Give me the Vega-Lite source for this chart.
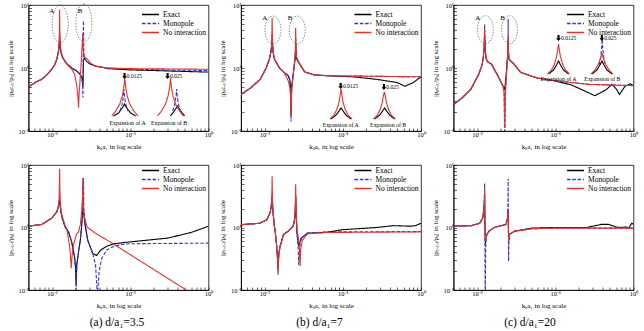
{
  "$schema": "https://vega.github.io/schema/vega-lite/v6.json",
  "background": "white",
  "padding": {"left": 5.5, "top": 1, "right": 0, "bottom": 0},
  "columns": 3,
  "align": "each",
  "spacing": {"row": 11, "column": 4.5},
  "resolve": {
    "scale": {"color": "independent", "strokeDash": "independent"},
    "legend": {"color": "independent", "strokeDash": "independent"}
  },
  "config": {
    "view": {"stroke": "#000", "strokeWidth": 0.8},
    "font": "Liberation Serif",
    "axis": {
      "grid": false, "domainColor": "#000", "domainWidth": 0.8,
      "tickColor": "#000", "tickWidth": 0.6, "tickSize": -3,
      "labelFont": "Liberation Serif", "labelFontSize": 6.5, "labelColor": "#000",
      "labelPadding": 3, "labelOverlap": false, "labelFlush": false,
      "titleFont": "Liberation Serif", "titleFontSize": 7, "titleFontWeight": "normal", "titleColor": "#000"
    },
    "legend": {
      "symbolType": "M-2,0H2", "symbolSize": 72, "symbolStrokeWidth": 1.3,
      "labelFont": "Liberation Serif", "labelFontSize": 7.5, "labelColor": "#000",
      "rowPadding": 0, "padding": 0, "labelOffset": 7.5
    },
    "title": {"font": "Liberation Serif", "fontSize": 11.5, "fontWeight": "normal", "color": "#000"}
  },
  "datasets": {
    "curves": [
      {"p":"a1","s":"Exact","x":0.005,"y":0.501},{"p":"a1","s":"Exact","x":0.0063,"y":0.603},{"p":"a1","s":"Exact","x":0.0074,"y":0.661},{"p":"a1","s":"Exact","x":0.0087,"y":0.794},{"p":"a1","s":"Exact","x":0.0099,"y":0.955},{"p":"a1","s":"Exact","x":0.0108,"y":1.12},{"p":"a1","s":"Exact","x":0.0115,"y":1.38},{"p":"a1","s":"Exact","x":0.012,"y":1.74},{"p":"a1","s":"Exact","x":0.0123,"y":2.09},{"p":"a1","s":"Exact","x":0.0125,"y":3.02},{"p":"a1","s":"Exact","x":0.0127,"y":2.14},{"p":"a1","s":"Exact","x":0.013,"y":1.78},{"p":"a1","s":"Exact","x":0.0135,"y":1.51},{"p":"a1","s":"Exact","x":0.0147,"y":1.26},{"p":"a1","s":"Exact","x":0.016,"y":1.12},{"p":"a1","s":"Exact","x":0.0179,"y":1.0},{"p":"a1","s":"Exact","x":0.0208,"y":0.891},{"p":"a1","s":"Exact","x":0.0225,"y":0.813},{"p":"a1","s":"Exact","x":0.0238,"y":0.724},{"p":"a1","s":"Exact","x":0.0245,"y":0.631},{"p":"a1","s":"Exact","x":0.0248,"y":0.501},{"p":"a1","s":"Exact","x":0.025,"y":0.794},{"p":"a1","s":"Exact","x":0.0252,"y":1.32},{"p":"a1","s":"Exact","x":0.0258,"y":1.45},{"p":"a1","s":"Exact","x":0.0268,"y":1.35},{"p":"a1","s":"Exact","x":0.0279,"y":1.26},{"p":"a1","s":"Exact","x":0.031,"y":1.15},{"p":"a1","s":"Exact","x":0.036,"y":1.07},{"p":"a1","s":"Exact","x":0.045,"y":1.02},{"p":"a1","s":"Exact","x":0.052,"y":0.977},{"p":"a1","s":"Exact","x":0.1,"y":0.933},{"p":"a1","s":"Exact","x":0.2,"y":0.912},{"p":"a1","s":"Exact","x":0.5,"y":0.881},{"p":"a1","s":"Exact","x":1,"y":0.861},
      {"p":"a1","s":"Monopole","x":0.005,"y":0.501},{"p":"a1","s":"Monopole","x":0.0063,"y":0.603},{"p":"a1","s":"Monopole","x":0.0074,"y":0.661},{"p":"a1","s":"Monopole","x":0.0087,"y":0.794},{"p":"a1","s":"Monopole","x":0.0099,"y":0.955},{"p":"a1","s":"Monopole","x":0.0108,"y":1.12},{"p":"a1","s":"Monopole","x":0.0115,"y":1.38},{"p":"a1","s":"Monopole","x":0.012,"y":1.74},{"p":"a1","s":"Monopole","x":0.0123,"y":2.14},{"p":"a1","s":"Monopole","x":0.0125,"y":3.55},{"p":"a1","s":"Monopole","x":0.0127,"y":2.14},{"p":"a1","s":"Monopole","x":0.013,"y":1.78},{"p":"a1","s":"Monopole","x":0.0135,"y":1.51},{"p":"a1","s":"Monopole","x":0.0147,"y":1.26},{"p":"a1","s":"Monopole","x":0.016,"y":1.12},{"p":"a1","s":"Monopole","x":0.0179,"y":1.0},{"p":"a1","s":"Monopole","x":0.0208,"y":0.891},{"p":"a1","s":"Monopole","x":0.0225,"y":0.813},{"p":"a1","s":"Monopole","x":0.0238,"y":0.708},{"p":"a1","s":"Monopole","x":0.0245,"y":0.562},{"p":"a1","s":"Monopole","x":0.0248,"y":0.339},{"p":"a1","s":"Monopole","x":0.025,"y":1.26},{"p":"a1","s":"Monopole","x":0.0252,"y":5.62},{"p":"a1","s":"Monopole","x":0.0254,"y":2.0},{"p":"a1","s":"Monopole","x":0.0258,"y":1.51},{"p":"a1","s":"Monopole","x":0.0268,"y":1.35},{"p":"a1","s":"Monopole","x":0.0279,"y":1.26},{"p":"a1","s":"Monopole","x":0.031,"y":1.15},{"p":"a1","s":"Monopole","x":0.036,"y":1.07},{"p":"a1","s":"Monopole","x":0.045,"y":1.02},{"p":"a1","s":"Monopole","x":0.052,"y":1.0},{"p":"a1","s":"Monopole","x":0.1,"y":0.955},{"p":"a1","s":"Monopole","x":0.5,"y":0.923},{"p":"a1","s":"Monopole","x":1,"y":0.912},
      {"p":"a1","s":"No interaction","x":0.005,"y":0.501},{"p":"a1","s":"No interaction","x":0.0063,"y":0.603},{"p":"a1","s":"No interaction","x":0.0074,"y":0.661},{"p":"a1","s":"No interaction","x":0.0087,"y":0.794},{"p":"a1","s":"No interaction","x":0.0099,"y":0.955},{"p":"a1","s":"No interaction","x":0.0108,"y":1.12},{"p":"a1","s":"No interaction","x":0.0115,"y":1.38},{"p":"a1","s":"No interaction","x":0.012,"y":1.82},{"p":"a1","s":"No interaction","x":0.0123,"y":2.51},{"p":"a1","s":"No interaction","x":0.0124,"y":3.55},{"p":"a1","s":"No interaction","x":0.0125,"y":8.51},{"p":"a1","s":"No interaction","x":0.0126,"y":3.55},{"p":"a1","s":"No interaction","x":0.0127,"y":2.51},{"p":"a1","s":"No interaction","x":0.013,"y":1.86},{"p":"a1","s":"No interaction","x":0.0135,"y":1.55},{"p":"a1","s":"No interaction","x":0.0147,"y":1.26},{"p":"a1","s":"No interaction","x":0.016,"y":1.1},{"p":"a1","s":"No interaction","x":0.0179,"y":0.955},{"p":"a1","s":"No interaction","x":0.0195,"y":0.794},{"p":"a1","s":"No interaction","x":0.0208,"y":0.501},{"p":"a1","s":"No interaction","x":0.0214,"y":0.355},{"p":"a1","s":"No interaction","x":0.0218,"y":0.234},{"p":"a1","s":"No interaction","x":0.0222,"y":0.398},{"p":"a1","s":"No interaction","x":0.0228,"y":0.631},{"p":"a1","s":"No interaction","x":0.0235,"y":1.12},{"p":"a1","s":"No interaction","x":0.0239,"y":1.62},{"p":"a1","s":"No interaction","x":0.0243,"y":2.4},{"p":"a1","s":"No interaction","x":0.0247,"y":3.63},{"p":"a1","s":"No interaction","x":0.025,"y":2.0},{"p":"a1","s":"No interaction","x":0.0255,"y":1.58},{"p":"a1","s":"No interaction","x":0.0265,"y":1.45},{"p":"a1","s":"No interaction","x":0.0279,"y":1.41},{"p":"a1","s":"No interaction","x":0.031,"y":1.2},{"p":"a1","s":"No interaction","x":0.036,"y":1.07},{"p":"a1","s":"No interaction","x":0.052,"y":1.0},{"p":"a1","s":"No interaction","x":0.1,"y":0.977},{"p":"a1","s":"No interaction","x":0.3,"y":0.966},{"p":"a1","s":"No interaction","x":1,"y":0.955},
      {"p":"a1","s":"Exact","g":"A","x":0.0611,"y":0.173},{"p":"a1","s":"Exact","g":"A","x":0.0708,"y":0.193},{"p":"a1","s":"Exact","g":"A","x":0.0773,"y":0.223},{"p":"a1","s":"Exact","g":"A","x":0.082,"y":0.249},{"p":"a1","s":"Exact","g":"A","x":0.0845,"y":0.268},{"p":"a1","s":"Exact","g":"A","x":0.087,"y":0.249},{"p":"a1","s":"Exact","g":"A","x":0.0923,"y":0.223},{"p":"a1","s":"Exact","g":"A","x":0.1008,"y":0.193},{"p":"a1","s":"Exact","g":"A","x":0.1169,"y":0.173},
      {"p":"a1","s":"Monopole","g":"A","x":0.0738,"y":0.208},{"p":"a1","s":"Monopole","g":"A","x":0.0783,"y":0.259},{"p":"a1","s":"Monopole","g":"A","x":0.0818,"y":0.36},{"p":"a1","s":"Monopole","g":"A","x":0.083,"y":0.464},{"p":"a1","s":"Monopole","g":"A","x":0.0842,"y":0.36},{"p":"a1","s":"Monopole","g":"A","x":0.0881,"y":0.259},{"p":"a1","s":"Monopole","g":"A","x":0.0934,"y":0.208},
      {"p":"a1","s":"No interaction","g":"A","x":0.058,"y":0.173},{"p":"a1","s":"No interaction","g":"A","x":0.0652,"y":0.208},{"p":"a1","s":"No interaction","g":"A","x":0.0734,"y":0.268},{"p":"a1","s":"No interaction","g":"A","x":0.079,"y":0.36},{"p":"a1","s":"No interaction","g":"A","x":0.0825,"y":0.482},{"p":"a1","s":"No interaction","g":"A","x":0.085,"y":0.694},{"p":"a1","s":"No interaction","g":"A","x":0.0876,"y":0.482},{"p":"a1","s":"No interaction","g":"A","x":0.0915,"y":0.36},{"p":"a1","s":"No interaction","g":"A","x":0.0985,"y":0.268},{"p":"a1","s":"No interaction","g":"A","x":0.111,"y":0.208},{"p":"a1","s":"No interaction","g":"A","x":0.125,"y":0.173},
      {"p":"a1","s":"Exact","g":"B","x":0.327,"y":0.173},{"p":"a1","s":"Exact","g":"B","x":0.357,"y":0.2},{"p":"a1","s":"Exact","g":"B","x":0.379,"y":0.223},{"p":"a1","s":"Exact","g":"B","x":0.402,"y":0.249},{"p":"a1","s":"Exact","g":"B","x":0.426,"y":0.223},{"p":"a1","s":"Exact","g":"B","x":0.452,"y":0.2},{"p":"a1","s":"Exact","g":"B","x":0.494,"y":0.173},
      {"p":"a1","s":"Monopole","g":"B","x":0.348,"y":0.208},{"p":"a1","s":"Monopole","g":"B","x":0.369,"y":0.259},{"p":"a1","s":"Monopole","g":"B","x":0.385,"y":0.36},{"p":"a1","s":"Monopole","g":"B","x":0.391,"y":0.464},{"p":"a1","s":"Monopole","g":"B","x":0.397,"y":0.36},{"p":"a1","s":"Monopole","g":"B","x":0.415,"y":0.259},{"p":"a1","s":"Monopole","g":"B","x":0.44,"y":0.208},
      {"p":"a1","s":"No interaction","g":"B","x":0.223,"y":0.173},{"p":"a1","s":"No interaction","g":"B","x":0.251,"y":0.208},{"p":"a1","s":"No interaction","g":"B","x":0.282,"y":0.268},{"p":"a1","s":"No interaction","g":"B","x":0.304,"y":0.36},{"p":"a1","s":"No interaction","g":"B","x":0.318,"y":0.482},{"p":"a1","s":"No interaction","g":"B","x":0.327,"y":0.694},{"p":"a1","s":"No interaction","g":"B","x":0.337,"y":0.482},{"p":"a1","s":"No interaction","g":"B","x":0.352,"y":0.36},{"p":"a1","s":"No interaction","g":"B","x":0.379,"y":0.268},{"p":"a1","s":"No interaction","g":"B","x":0.426,"y":0.208},{"p":"a1","s":"No interaction","g":"B","x":0.479,"y":0.173},

      {"p":"b1","s":"Exact","x":0.005,"y":0.38},{"p":"b1","s":"Exact","x":0.0066,"y":0.479},{"p":"b1","s":"Exact","x":0.0088,"y":0.661},{"p":"b1","s":"Exact","x":0.0105,"y":1.0},{"p":"b1","s":"Exact","x":0.0115,"y":1.38},{"p":"b1","s":"Exact","x":0.012,"y":1.74},{"p":"b1","s":"Exact","x":0.0123,"y":2.14},{"p":"b1","s":"Exact","x":0.0125,"y":2.82},{"p":"b1","s":"Exact","x":0.0127,"y":2.09},{"p":"b1","s":"Exact","x":0.013,"y":1.66},{"p":"b1","s":"Exact","x":0.0134,"y":1.38},{"p":"b1","s":"Exact","x":0.0155,"y":1.0},{"p":"b1","s":"Exact","x":0.0178,"y":0.851},{"p":"b1","s":"Exact","x":0.02,"y":0.759},{"p":"b1","s":"Exact","x":0.021,"y":0.661},{"p":"b1","s":"Exact","x":0.0215,"y":0.501},{"p":"b1","s":"Exact","x":0.0218,"y":0.182},{"p":"b1","s":"Exact","x":0.0222,"y":0.501},{"p":"b1","s":"Exact","x":0.0235,"y":0.891},{"p":"b1","s":"Exact","x":0.0243,"y":1.26},{"p":"b1","s":"Exact","x":0.0248,"y":1.58},{"p":"b1","s":"Exact","x":0.025,"y":2.51},{"p":"b1","s":"Exact","x":0.0252,"y":1.78},{"p":"b1","s":"Exact","x":0.0256,"y":1.41},{"p":"b1","s":"Exact","x":0.027,"y":1.26},{"p":"b1","s":"Exact","x":0.0325,"y":0.871},{"p":"b1","s":"Exact","x":0.043,"y":0.776},{"p":"b1","s":"Exact","x":0.07,"y":0.75},{"p":"b1","s":"Exact","x":0.136,"y":0.724},{"p":"b1","s":"Exact","x":0.27,"y":0.661},{"p":"b1","s":"Exact","x":0.49,"y":0.589},{"p":"b1","s":"Exact","x":0.625,"y":0.513},{"p":"b1","s":"Exact","x":0.8,"y":0.589},{"p":"b1","s":"Exact","x":1,"y":0.724},
      {"p":"b1","s":"Monopole","x":0.005,"y":0.38},{"p":"b1","s":"Monopole","x":0.0066,"y":0.479},{"p":"b1","s":"Monopole","x":0.0088,"y":0.661},{"p":"b1","s":"Monopole","x":0.0105,"y":1.0},{"p":"b1","s":"Monopole","x":0.0115,"y":1.38},{"p":"b1","s":"Monopole","x":0.012,"y":1.74},{"p":"b1","s":"Monopole","x":0.0123,"y":2.24},{"p":"b1","s":"Monopole","x":0.0125,"y":3.55},{"p":"b1","s":"Monopole","x":0.0127,"y":2.24},{"p":"b1","s":"Monopole","x":0.013,"y":1.66},{"p":"b1","s":"Monopole","x":0.0134,"y":1.38},{"p":"b1","s":"Monopole","x":0.0155,"y":1.0},{"p":"b1","s":"Monopole","x":0.0178,"y":0.851},{"p":"b1","s":"Monopole","x":0.02,"y":0.759},{"p":"b1","s":"Monopole","x":0.021,"y":0.646},{"p":"b1","s":"Monopole","x":0.0215,"y":0.447},{"p":"b1","s":"Monopole","x":0.0218,"y":0.141},{"p":"b1","s":"Monopole","x":0.0222,"y":0.447},{"p":"b1","s":"Monopole","x":0.0235,"y":0.891},{"p":"b1","s":"Monopole","x":0.0243,"y":1.26},{"p":"b1","s":"Monopole","x":0.0248,"y":1.74},{"p":"b1","s":"Monopole","x":0.025,"y":3.16},{"p":"b1","s":"Monopole","x":0.0252,"y":1.91},{"p":"b1","s":"Monopole","x":0.0256,"y":1.45},{"p":"b1","s":"Monopole","x":0.027,"y":1.26},{"p":"b1","s":"Monopole","x":0.0325,"y":0.871},{"p":"b1","s":"Monopole","x":0.043,"y":0.776},{"p":"b1","s":"Monopole","x":0.07,"y":0.75},{"p":"b1","s":"Monopole","x":0.2,"y":0.741},{"p":"b1","s":"Monopole","x":1,"y":0.724},
      {"p":"b1","s":"No interaction","x":0.005,"y":0.38},{"p":"b1","s":"No interaction","x":0.0066,"y":0.479},{"p":"b1","s":"No interaction","x":0.0088,"y":0.661},{"p":"b1","s":"No interaction","x":0.0105,"y":1.0},{"p":"b1","s":"No interaction","x":0.0115,"y":1.38},{"p":"b1","s":"No interaction","x":0.012,"y":1.74},{"p":"b1","s":"No interaction","x":0.0123,"y":2.29},{"p":"b1","s":"No interaction","x":0.0124,"y":3.16},{"p":"b1","s":"No interaction","x":0.0125,"y":6.31},{"p":"b1","s":"No interaction","x":0.0126,"y":3.16},{"p":"b1","s":"No interaction","x":0.0127,"y":2.29},{"p":"b1","s":"No interaction","x":0.013,"y":1.66},{"p":"b1","s":"No interaction","x":0.0134,"y":1.38},{"p":"b1","s":"No interaction","x":0.0155,"y":1.0},{"p":"b1","s":"No interaction","x":0.0178,"y":0.851},{"p":"b1","s":"No interaction","x":0.02,"y":0.631},{"p":"b1","s":"No interaction","x":0.021,"y":0.501},{"p":"b1","s":"No interaction","x":0.0215,"y":0.355},{"p":"b1","s":"No interaction","x":0.0218,"y":0.17},{"p":"b1","s":"No interaction","x":0.0222,"y":0.447},{"p":"b1","s":"No interaction","x":0.0235,"y":0.891},{"p":"b1","s":"No interaction","x":0.0243,"y":1.32},{"p":"b1","s":"No interaction","x":0.0248,"y":2.0},{"p":"b1","s":"No interaction","x":0.025,"y":4.37},{"p":"b1","s":"No interaction","x":0.0252,"y":2.0},{"p":"b1","s":"No interaction","x":0.0256,"y":1.51},{"p":"b1","s":"No interaction","x":0.027,"y":1.29},{"p":"b1","s":"No interaction","x":0.0325,"y":0.871},{"p":"b1","s":"No interaction","x":0.043,"y":0.776},{"p":"b1","s":"No interaction","x":0.07,"y":0.75},{"p":"b1","s":"No interaction","x":0.2,"y":0.741},{"p":"b1","s":"No interaction","x":1,"y":0.724},
      {"p":"b1","s":"Exact","g":"A","x":0.0708,"y":0.155},{"p":"b1","s":"Exact","g":"A","x":0.082,"y":0.179},{"p":"b1","s":"Exact","g":"A","x":0.0896,"y":0.208},{"p":"b1","s":"Exact","g":"A","x":0.095,"y":0.232},{"p":"b1","s":"Exact","g":"A","x":0.1008,"y":0.208},{"p":"b1","s":"Exact","g":"A","x":0.1101,"y":0.179},{"p":"b1","s":"Exact","g":"A","x":0.1275,"y":0.155},
      {"p":"b1","s":"No interaction","g":"A","x":0.0687,"y":0.155},{"p":"b1","s":"No interaction","g":"A","x":0.0773,"y":0.179},{"p":"b1","s":"No interaction","g":"A","x":0.0845,"y":0.223},{"p":"b1","s":"No interaction","g":"A","x":0.0896,"y":0.288},{"p":"b1","s":"No interaction","g":"A","x":0.0922,"y":0.36},{"p":"b1","s":"No interaction","g":"A","x":0.095,"y":0.464},{"p":"b1","s":"No interaction","g":"A","x":0.0979,"y":0.36},{"p":"b1","s":"No interaction","g":"A","x":0.1008,"y":0.288},{"p":"b1","s":"No interaction","g":"A","x":0.1069,"y":0.223},{"p":"b1","s":"No interaction","g":"A","x":0.1168,"y":0.179},{"p":"b1","s":"No interaction","g":"A","x":0.1314,"y":0.155},
      {"p":"b1","s":"Exact","g":"B","x":0.2555,"y":0.155},{"p":"b1","s":"Exact","g":"B","x":0.296,"y":0.179},{"p":"b1","s":"Exact","g":"B","x":0.3234,"y":0.208},{"p":"b1","s":"Exact","g":"B","x":0.343,"y":0.232},{"p":"b1","s":"Exact","g":"B","x":0.3639,"y":0.208},{"p":"b1","s":"Exact","g":"B","x":0.3975,"y":0.179},{"p":"b1","s":"Exact","g":"B","x":0.4603,"y":0.155},
      {"p":"b1","s":"No interaction","g":"B","x":0.2458,"y":0.155},{"p":"b1","s":"No interaction","g":"B","x":0.2768,"y":0.179},{"p":"b1","s":"No interaction","g":"B","x":0.3023,"y":0.223},{"p":"b1","s":"No interaction","g":"B","x":0.3206,"y":0.288},{"p":"b1","s":"No interaction","g":"B","x":0.3301,"y":0.36},{"p":"b1","s":"No interaction","g":"B","x":0.34,"y":0.416},{"p":"b1","s":"No interaction","g":"B","x":0.3502,"y":0.36},{"p":"b1","s":"No interaction","g":"B","x":0.3607,"y":0.288},{"p":"b1","s":"No interaction","g":"B","x":0.3825,"y":0.223},{"p":"b1","s":"No interaction","g":"B","x":0.4179,"y":0.179},{"p":"b1","s":"No interaction","g":"B","x":0.4702,"y":0.155},

      {"p":"c1","s":"Exact","x":0.005,"y":0.263},{"p":"c1","s":"Exact","x":0.0065,"y":0.339},{"p":"c1","s":"Exact","x":0.0083,"y":0.457},{"p":"c1","s":"Exact","x":0.0105,"y":0.794},{"p":"c1","s":"Exact","x":0.0116,"y":1.12},{"p":"c1","s":"Exact","x":0.012,"y":1.45},{"p":"c1","s":"Exact","x":0.0123,"y":2.0},{"p":"c1","s":"Exact","x":0.0125,"y":3.39},{"p":"c1","s":"Exact","x":0.0127,"y":2.0},{"p":"c1","s":"Exact","x":0.013,"y":1.45},{"p":"c1","s":"Exact","x":0.0136,"y":1.26},{"p":"c1","s":"Exact","x":0.0153,"y":1.15},{"p":"c1","s":"Exact","x":0.0186,"y":0.741},{"p":"c1","s":"Exact","x":0.0204,"y":0.589},{"p":"c1","s":"Exact","x":0.0215,"y":0.513},{"p":"c1","s":"Exact","x":0.0226,"y":0.457},{"p":"c1","s":"Exact","x":0.0235,"y":0.75},{"p":"c1","s":"Exact","x":0.0243,"y":1.26},{"p":"c1","s":"Exact","x":0.0248,"y":1.78},{"p":"c1","s":"Exact","x":0.025,"y":2.82},{"p":"c1","s":"Exact","x":0.0252,"y":1.78},{"p":"c1","s":"Exact","x":0.0256,"y":1.38},{"p":"c1","s":"Exact","x":0.0297,"y":1.15},{"p":"c1","s":"Exact","x":0.0362,"y":0.851},{"p":"c1","s":"Exact","x":0.059,"y":0.692},{"p":"c1","s":"Exact","x":0.096,"y":0.631},{"p":"c1","s":"Exact","x":0.161,"y":0.537},{"p":"c1","s":"Exact","x":0.216,"y":0.457},{"p":"c1","s":"Exact","x":0.321,"y":0.363},{"p":"c1","s":"Exact","x":0.452,"y":0.457},{"p":"c1","s":"Exact","x":0.53,"y":0.55},{"p":"c1","s":"Exact","x":0.61,"y":0.457},{"p":"c1","s":"Exact","x":0.66,"y":0.38},{"p":"c1","s":"Exact","x":0.78,"y":0.513},{"p":"c1","s":"Exact","x":0.91,"y":0.562},{"p":"c1","s":"Exact","x":1,"y":0.525},
      {"p":"c1","s":"Monopole","x":0.005,"y":0.263},{"p":"c1","s":"Monopole","x":0.0065,"y":0.339},{"p":"c1","s":"Monopole","x":0.0083,"y":0.457},{"p":"c1","s":"Monopole","x":0.0105,"y":0.794},{"p":"c1","s":"Monopole","x":0.0116,"y":1.12},{"p":"c1","s":"Monopole","x":0.012,"y":1.45},{"p":"c1","s":"Monopole","x":0.0123,"y":2.09},{"p":"c1","s":"Monopole","x":0.0124,"y":3.0},{"p":"c1","s":"Monopole","x":0.0125,"y":4.9},{"p":"c1","s":"Monopole","x":0.0126,"y":3.0},{"p":"c1","s":"Monopole","x":0.0127,"y":2.09},{"p":"c1","s":"Monopole","x":0.013,"y":1.45},{"p":"c1","s":"Monopole","x":0.0136,"y":1.26},{"p":"c1","s":"Monopole","x":0.0153,"y":1.15},{"p":"c1","s":"Monopole","x":0.0186,"y":0.741},{"p":"c1","s":"Monopole","x":0.0204,"y":0.589},{"p":"c1","s":"Monopole","x":0.0215,"y":0.513},{"p":"c1","s":"Monopole","x":0.0222,"y":0.4},{"p":"c1","s":"Monopole","x":0.0226,"y":0.0501},{"p":"c1","s":"Monopole","x":0.023,"y":0.4},{"p":"c1","s":"Monopole","x":0.0238,"y":0.8},{"p":"c1","s":"Monopole","x":0.0245,"y":1.45},{"p":"c1","s":"Monopole","x":0.0249,"y":2.5},{"p":"c1","s":"Monopole","x":0.025,"y":6.03},{"p":"c1","s":"Monopole","x":0.0251,"y":2.5},{"p":"c1","s":"Monopole","x":0.0253,"y":1.78},{"p":"c1","s":"Monopole","x":0.0256,"y":1.38},{"p":"c1","s":"Monopole","x":0.0297,"y":1.15},{"p":"c1","s":"Monopole","x":0.0362,"y":0.851},{"p":"c1","s":"Monopole","x":0.059,"y":0.692},{"p":"c1","s":"Monopole","x":0.096,"y":0.631},{"p":"c1","s":"Monopole","x":0.264,"y":0.55},{"p":"c1","s":"Monopole","x":1,"y":0.525},
      {"p":"c1","s":"No interaction","x":0.005,"y":0.263},{"p":"c1","s":"No interaction","x":0.0065,"y":0.339},{"p":"c1","s":"No interaction","x":0.0083,"y":0.457},{"p":"c1","s":"No interaction","x":0.0105,"y":0.794},{"p":"c1","s":"No interaction","x":0.0116,"y":1.12},{"p":"c1","s":"No interaction","x":0.012,"y":1.45},{"p":"c1","s":"No interaction","x":0.0123,"y":2.09},{"p":"c1","s":"No interaction","x":0.0124,"y":2.9},{"p":"c1","s":"No interaction","x":0.0125,"y":4.37},{"p":"c1","s":"No interaction","x":0.0126,"y":2.9},{"p":"c1","s":"No interaction","x":0.0127,"y":2.09},{"p":"c1","s":"No interaction","x":0.013,"y":1.45},{"p":"c1","s":"No interaction","x":0.0136,"y":1.26},{"p":"c1","s":"No interaction","x":0.0153,"y":1.15},{"p":"c1","s":"No interaction","x":0.0186,"y":0.741},{"p":"c1","s":"No interaction","x":0.0204,"y":0.589},{"p":"c1","s":"No interaction","x":0.0215,"y":0.513},{"p":"c1","s":"No interaction","x":0.0222,"y":0.4},{"p":"c1","s":"No interaction","x":0.0226,"y":0.112},{"p":"c1","s":"No interaction","x":0.023,"y":0.4},{"p":"c1","s":"No interaction","x":0.0238,"y":0.8},{"p":"c1","s":"No interaction","x":0.0245,"y":1.45},{"p":"c1","s":"No interaction","x":0.0249,"y":2.2},{"p":"c1","s":"No interaction","x":0.025,"y":3.24},{"p":"c1","s":"No interaction","x":0.0251,"y":2.2},{"p":"c1","s":"No interaction","x":0.0253,"y":1.74},{"p":"c1","s":"No interaction","x":0.0256,"y":1.38},{"p":"c1","s":"No interaction","x":0.0297,"y":1.15},{"p":"c1","s":"No interaction","x":0.0362,"y":0.851},{"p":"c1","s":"No interaction","x":0.059,"y":0.692},{"p":"c1","s":"No interaction","x":0.096,"y":0.631},{"p":"c1","s":"No interaction","x":0.264,"y":0.55},{"p":"c1","s":"No interaction","x":1,"y":0.525},
      {"p":"c1","s":"Exact","g":"A","x":0.082,"y":0.803},{"p":"c1","s":"Exact","g":"A","x":0.0949,"y":0.929},{"p":"c1","s":"Exact","g":"A","x":0.1037,"y":1.117},{"p":"c1","s":"Exact","g":"A","x":0.11,"y":1.29},{"p":"c1","s":"Exact","g":"A","x":0.1167,"y":1.117},{"p":"c1","s":"Exact","g":"A","x":0.1275,"y":0.929},{"p":"c1","s":"Exact","g":"A","x":0.1476,"y":0.803},
      {"p":"c1","s":"No interaction","g":"A","x":0.0795,"y":0.803},{"p":"c1","s":"No interaction","g":"A","x":0.0895,"y":0.929},{"p":"c1","s":"No interaction","g":"A","x":0.0978,"y":1.156},{"p":"c1","s":"No interaction","g":"A","x":0.1037,"y":1.5},{"p":"c1","s":"No interaction","g":"A","x":0.1068,"y":1.86},{"p":"c1","s":"No interaction","g":"A","x":0.11,"y":2.4},{"p":"c1","s":"No interaction","g":"A","x":0.1133,"y":1.86},{"p":"c1","s":"No interaction","g":"A","x":0.1167,"y":1.5},{"p":"c1","s":"No interaction","g":"A","x":0.1238,"y":1.156},{"p":"c1","s":"No interaction","g":"A","x":0.1352,"y":0.929},{"p":"c1","s":"No interaction","g":"A","x":0.1521,"y":0.803},
      {"p":"c1","s":"Exact","g":"B","x":0.2943,"y":0.803},{"p":"c1","s":"Exact","g":"B","x":0.3409,"y":0.929},{"p":"c1","s":"Exact","g":"B","x":0.3725,"y":1.117},{"p":"c1","s":"Exact","g":"B","x":0.395,"y":1.29},{"p":"c1","s":"Exact","g":"B","x":0.4191,"y":1.117},{"p":"c1","s":"Exact","g":"B","x":0.4578,"y":0.929},{"p":"c1","s":"Exact","g":"B","x":0.5301,"y":0.803},
      {"p":"c1","s":"Monopole","g":"B","x":0.3642,"y":1.117},{"p":"c1","s":"Monopole","g":"B","x":0.3809,"y":1.5},{"p":"c1","s":"Monopole","g":"B","x":0.392,"y":2.15},{"p":"c1","s":"Monopole","g":"B","x":0.398,"y":2.88},{"p":"c1","s":"Monopole","g":"B","x":0.404,"y":2.15},{"p":"c1","s":"Monopole","g":"B","x":0.4159,"y":1.5},{"p":"c1","s":"Monopole","g":"B","x":0.4346,"y":1.117},
      {"p":"c1","s":"No interaction","g":"B","x":0.2856,"y":0.803},{"p":"c1","s":"No interaction","g":"B","x":0.3215,"y":0.929},{"p":"c1","s":"No interaction","g":"B","x":0.3512,"y":1.117},{"p":"c1","s":"No interaction","g":"B","x":0.3725,"y":1.34},{"p":"c1","s":"No interaction","g":"B","x":0.3835,"y":1.5},{"p":"c1","s":"No interaction","g":"B","x":0.395,"y":1.73},{"p":"c1","s":"No interaction","g":"B","x":0.4069,"y":1.5},{"p":"c1","s":"No interaction","g":"B","x":0.4191,"y":1.34},{"p":"c1","s":"No interaction","g":"B","x":0.4444,"y":1.117},{"p":"c1","s":"No interaction","g":"B","x":0.4855,"y":0.929},{"p":"c1","s":"No interaction","g":"B","x":0.5463,"y":0.803},

      {"p":"a2","s":"Exact","x":0.005,"y":1.05},{"p":"a2","s":"Exact","x":0.0074,"y":1.12},{"p":"a2","s":"Exact","x":0.0099,"y":1.41},{"p":"a2","s":"Exact","x":0.0115,"y":1.78},{"p":"a2","s":"Exact","x":0.012,"y":2.09},{"p":"a2","s":"Exact","x":0.0123,"y":2.51},{"p":"a2","s":"Exact","x":0.0125,"y":2.82},{"p":"a2","s":"Exact","x":0.0127,"y":2.24},{"p":"a2","s":"Exact","x":0.013,"y":1.78},{"p":"a2","s":"Exact","x":0.0135,"y":1.41},{"p":"a2","s":"Exact","x":0.0148,"y":1.0},{"p":"a2","s":"Exact","x":0.0163,"y":0.851},{"p":"a2","s":"Exact","x":0.0178,"y":0.589},{"p":"a2","s":"Exact","x":0.0195,"y":0.324},{"p":"a2","s":"Exact","x":0.02,"y":0.224},{"p":"a2","s":"Exact","x":0.0203,"y":0.12},{"p":"a2","s":"Exact","x":0.0207,"y":0.251},{"p":"a2","s":"Exact","x":0.0218,"y":0.407},{"p":"a2","s":"Exact","x":0.023,"y":0.631},{"p":"a2","s":"Exact","x":0.0238,"y":1.0},{"p":"a2","s":"Exact","x":0.0245,"y":1.58},{"p":"a2","s":"Exact","x":0.025,"y":2.75},{"p":"a2","s":"Exact","x":0.0255,"y":1.58},{"p":"a2","s":"Exact","x":0.0265,"y":1.1},{"p":"a2","s":"Exact","x":0.0285,"y":0.631},{"p":"a2","s":"Exact","x":0.033,"y":0.389},{"p":"a2","s":"Exact","x":0.037,"y":0.355},{"p":"a2","s":"Exact","x":0.042,"y":0.437},{"p":"a2","s":"Exact","x":0.05,"y":0.501},{"p":"a2","s":"Exact","x":0.062,"y":0.55},{"p":"a2","s":"Exact","x":0.1,"y":0.589},{"p":"a2","s":"Exact","x":0.3,"y":0.676},{"p":"a2","s":"Exact","x":0.6,"y":0.832},{"p":"a2","s":"Exact","x":1,"y":1.05},
      {"p":"a2","s":"Monopole","x":0.005,"y":1.05},{"p":"a2","s":"Monopole","x":0.0074,"y":1.12},{"p":"a2","s":"Monopole","x":0.0099,"y":1.41},{"p":"a2","s":"Monopole","x":0.0115,"y":1.78},{"p":"a2","s":"Monopole","x":0.012,"y":2.09},{"p":"a2","s":"Monopole","x":0.0123,"y":2.51},{"p":"a2","s":"Monopole","x":0.0125,"y":2.82},{"p":"a2","s":"Monopole","x":0.0127,"y":2.24},{"p":"a2","s":"Monopole","x":0.013,"y":1.78},{"p":"a2","s":"Monopole","x":0.0135,"y":1.41},{"p":"a2","s":"Monopole","x":0.0148,"y":1.0},{"p":"a2","s":"Monopole","x":0.0163,"y":0.851},{"p":"a2","s":"Monopole","x":0.0178,"y":0.589},{"p":"a2","s":"Monopole","x":0.0195,"y":0.324},{"p":"a2","s":"Monopole","x":0.02,"y":0.2},{"p":"a2","s":"Monopole","x":0.0203,"y":0.1},{"p":"a2","s":"Monopole","x":0.0207,"y":0.24},{"p":"a2","s":"Monopole","x":0.0218,"y":0.407},{"p":"a2","s":"Monopole","x":0.023,"y":0.631},{"p":"a2","s":"Monopole","x":0.0238,"y":1.0},{"p":"a2","s":"Monopole","x":0.0245,"y":1.66},{"p":"a2","s":"Monopole","x":0.0249,"y":2.8},{"p":"a2","s":"Monopole","x":0.0252,"y":6.17},{"p":"a2","s":"Monopole","x":0.0255,"y":2.0},{"p":"a2","s":"Monopole","x":0.0265,"y":1.1},{"p":"a2","s":"Monopole","x":0.0285,"y":0.631},{"p":"a2","s":"Monopole","x":0.033,"y":0.389},{"p":"a2","s":"Monopole","x":0.036,"y":0.251},{"p":"a2","s":"Monopole","x":0.038,"y":0.0794},{"p":"a2","s":"Monopole","x":0.04,"y":0.2},{"p":"a2","s":"Monopole","x":0.043,"y":0.316},{"p":"a2","s":"Monopole","x":0.05,"y":0.437},{"p":"a2","s":"Monopole","x":0.062,"y":0.501},{"p":"a2","s":"Monopole","x":0.08,"y":0.537},{"p":"a2","s":"Monopole","x":0.1,"y":0.55},{"p":"a2","s":"Monopole","x":1,"y":0.562},
      {"p":"a2","s":"No interaction","x":0.005,"y":1.05},{"p":"a2","s":"No interaction","x":0.0074,"y":1.12},{"p":"a2","s":"No interaction","x":0.0099,"y":1.41},{"p":"a2","s":"No interaction","x":0.0115,"y":1.78},{"p":"a2","s":"No interaction","x":0.012,"y":2.14},{"p":"a2","s":"No interaction","x":0.0123,"y":2.82},{"p":"a2","s":"No interaction","x":0.0124,"y":4.0},{"p":"a2","s":"No interaction","x":0.0125,"y":8.71},{"p":"a2","s":"No interaction","x":0.0126,"y":4.0},{"p":"a2","s":"No interaction","x":0.0127,"y":2.82},{"p":"a2","s":"No interaction","x":0.013,"y":1.95},{"p":"a2","s":"No interaction","x":0.0134,"y":1.58},{"p":"a2","s":"No interaction","x":0.0145,"y":1.12},{"p":"a2","s":"No interaction","x":0.0155,"y":0.912},{"p":"a2","s":"No interaction","x":0.0167,"y":0.525},{"p":"a2","s":"No interaction","x":0.0172,"y":0.35},{"p":"a2","s":"No interaction","x":0.0176,"y":0.224},{"p":"a2","s":"No interaction","x":0.018,"y":0.35},{"p":"a2","s":"No interaction","x":0.0188,"y":0.525},{"p":"a2","s":"No interaction","x":0.0205,"y":0.776},{"p":"a2","s":"No interaction","x":0.0218,"y":0.851},{"p":"a2","s":"No interaction","x":0.023,"y":1.12},{"p":"a2","s":"No interaction","x":0.0239,"y":1.78},{"p":"a2","s":"No interaction","x":0.0244,"y":2.82},{"p":"a2","s":"No interaction","x":0.0247,"y":6.17},{"p":"a2","s":"No interaction","x":0.025,"y":2.51},{"p":"a2","s":"No interaction","x":0.0255,"y":1.58},{"p":"a2","s":"No interaction","x":0.0262,"y":1.41},{"p":"a2","s":"No interaction","x":0.028,"y":1.02},{"p":"a2","s":"No interaction","x":0.0357,"y":0.813},{"p":"a2","s":"No interaction","x":0.0585,"y":0.562},{"p":"a2","s":"No interaction","x":0.128,"y":0.302},{"p":"a2","s":"No interaction","x":0.52,"y":0.1},{"p":"a2","s":"No interaction","x":0.7,"y":0.0794},

      {"p":"b2","s":"Exact","x":0.005,"y":1.11},{"p":"b2","s":"Exact","x":0.0087,"y":1.17},{"p":"b2","s":"Exact","x":0.0107,"y":1.33},{"p":"b2","s":"Exact","x":0.0118,"y":1.74},{"p":"b2","s":"Exact","x":0.0122,"y":2.2},{"p":"b2","s":"Exact","x":0.0124,"y":2.8},{"p":"b2","s":"Exact","x":0.0125,"y":3.16},{"p":"b2","s":"Exact","x":0.0126,"y":2.5},{"p":"b2","s":"Exact","x":0.0128,"y":1.8},{"p":"b2","s":"Exact","x":0.0133,"y":1.1},{"p":"b2","s":"Exact","x":0.0137,"y":0.851},{"p":"b2","s":"Exact","x":0.0143,"y":0.5},{"p":"b2","s":"Exact","x":0.0146,"y":0.35},{"p":"b2","s":"Exact","x":0.0149,"y":0.224},{"p":"b2","s":"Exact","x":0.0152,"y":0.38},{"p":"b2","s":"Exact","x":0.0158,"y":0.501},{"p":"b2","s":"Exact","x":0.0175,"y":0.776},{"p":"b2","s":"Exact","x":0.02,"y":0.871},{"p":"b2","s":"Exact","x":0.0232,"y":1.05},{"p":"b2","s":"Exact","x":0.0242,"y":1.3},{"p":"b2","s":"Exact","x":0.0247,"y":1.8},{"p":"b2","s":"Exact","x":0.025,"y":3.16},{"p":"b2","s":"Exact","x":0.0253,"y":1.8},{"p":"b2","s":"Exact","x":0.026,"y":0.8},{"p":"b2","s":"Exact","x":0.0268,"y":0.6},{"p":"b2","s":"Exact","x":0.0274,"y":0.501},{"p":"b2","s":"Exact","x":0.0285,"y":0.6},{"p":"b2","s":"Exact","x":0.0295,"y":0.676},{"p":"b2","s":"Exact","x":0.0354,"y":0.813},{"p":"b2","s":"Exact","x":0.06,"y":0.832},{"p":"b2","s":"Exact","x":0.1,"y":0.923},{"p":"b2","s":"Exact","x":0.27,"y":1.0},{"p":"b2","s":"Exact","x":0.44,"y":1.07},{"p":"b2","s":"Exact","x":0.73,"y":1.05},{"p":"b2","s":"Exact","x":0.85,"y":1.07},{"p":"b2","s":"Exact","x":1,"y":1.17},
      {"p":"b2","s":"Monopole","x":0.005,"y":1.11},{"p":"b2","s":"Monopole","x":0.0087,"y":1.17},{"p":"b2","s":"Monopole","x":0.0107,"y":1.33},{"p":"b2","s":"Monopole","x":0.0118,"y":1.74},{"p":"b2","s":"Monopole","x":0.0122,"y":2.2},{"p":"b2","s":"Monopole","x":0.0124,"y":2.9},{"p":"b2","s":"Monopole","x":0.0125,"y":3.55},{"p":"b2","s":"Monopole","x":0.0126,"y":2.6},{"p":"b2","s":"Monopole","x":0.0128,"y":1.8},{"p":"b2","s":"Monopole","x":0.0133,"y":1.1},{"p":"b2","s":"Monopole","x":0.0137,"y":0.851},{"p":"b2","s":"Monopole","x":0.0143,"y":0.5},{"p":"b2","s":"Monopole","x":0.0146,"y":0.33},{"p":"b2","s":"Monopole","x":0.0149,"y":0.176},{"p":"b2","s":"Monopole","x":0.0152,"y":0.36},{"p":"b2","s":"Monopole","x":0.0158,"y":0.501},{"p":"b2","s":"Monopole","x":0.0175,"y":0.776},{"p":"b2","s":"Monopole","x":0.02,"y":0.871},{"p":"b2","s":"Monopole","x":0.0232,"y":1.05},{"p":"b2","s":"Monopole","x":0.0242,"y":1.3},{"p":"b2","s":"Monopole","x":0.0247,"y":1.8},{"p":"b2","s":"Monopole","x":0.025,"y":3.2},{"p":"b2","s":"Monopole","x":0.0253,"y":1.8},{"p":"b2","s":"Monopole","x":0.026,"y":0.8},{"p":"b2","s":"Monopole","x":0.0268,"y":0.5},{"p":"b2","s":"Monopole","x":0.0274,"y":0.251},{"p":"b2","s":"Monopole","x":0.0282,"y":0.5},{"p":"b2","s":"Monopole","x":0.0295,"y":0.676},{"p":"b2","s":"Monopole","x":0.0354,"y":0.813},{"p":"b2","s":"Monopole","x":0.06,"y":0.851},{"p":"b2","s":"Monopole","x":1,"y":0.861},
      {"p":"b2","s":"No interaction","x":0.005,"y":1.11},{"p":"b2","s":"No interaction","x":0.0087,"y":1.17},{"p":"b2","s":"No interaction","x":0.0107,"y":1.33},{"p":"b2","s":"No interaction","x":0.0118,"y":1.74},{"p":"b2","s":"No interaction","x":0.0122,"y":2.3},{"p":"b2","s":"No interaction","x":0.0124,"y":3.3},{"p":"b2","s":"No interaction","x":0.0125,"y":6.61},{"p":"b2","s":"No interaction","x":0.0126,"y":3.0},{"p":"b2","s":"No interaction","x":0.0128,"y":1.9},{"p":"b2","s":"No interaction","x":0.0133,"y":1.1},{"p":"b2","s":"No interaction","x":0.0137,"y":0.851},{"p":"b2","s":"No interaction","x":0.0143,"y":0.5},{"p":"b2","s":"No interaction","x":0.0146,"y":0.33},{"p":"b2","s":"No interaction","x":0.0149,"y":0.2},{"p":"b2","s":"No interaction","x":0.0152,"y":0.36},{"p":"b2","s":"No interaction","x":0.0158,"y":0.501},{"p":"b2","s":"No interaction","x":0.0175,"y":0.776},{"p":"b2","s":"No interaction","x":0.02,"y":0.871},{"p":"b2","s":"No interaction","x":0.0232,"y":1.05},{"p":"b2","s":"No interaction","x":0.0242,"y":1.4},{"p":"b2","s":"No interaction","x":0.0247,"y":2.2},{"p":"b2","s":"No interaction","x":0.025,"y":4.9},{"p":"b2","s":"No interaction","x":0.0253,"y":2.0},{"p":"b2","s":"No interaction","x":0.026,"y":0.9},{"p":"b2","s":"No interaction","x":0.0272,"y":0.65},{"p":"b2","s":"No interaction","x":0.028,"y":0.45},{"p":"b2","s":"No interaction","x":0.0285,"y":0.24},{"p":"b2","s":"No interaction","x":0.029,"y":0.45},{"p":"b2","s":"No interaction","x":0.0305,"y":0.631},{"p":"b2","s":"No interaction","x":0.0354,"y":0.79},{"p":"b2","s":"No interaction","x":0.06,"y":0.832},{"p":"b2","s":"No interaction","x":1,"y":0.851},

      {"p":"c2","s":"Exact","x":0.005,"y":1.05},{"p":"c2","s":"Exact","x":0.0085,"y":1.07},{"p":"c2","s":"Exact","x":0.0108,"y":1.17},{"p":"c2","s":"Exact","x":0.0118,"y":1.41},{"p":"c2","s":"Exact","x":0.0122,"y":1.9},{"p":"c2","s":"Exact","x":0.0124,"y":2.6},{"p":"c2","s":"Exact","x":0.0125,"y":3.5},{"p":"c2","s":"Exact","x":0.0126,"y":1.2},{"p":"c2","s":"Exact","x":0.0128,"y":0.55},{"p":"c2","s":"Exact","x":0.013,"y":0.7},{"p":"c2","s":"Exact","x":0.0134,"y":0.776},{"p":"c2","s":"Exact","x":0.0142,"y":0.871},{"p":"c2","s":"Exact","x":0.0165,"y":1.0},{"p":"c2","s":"Exact","x":0.0205,"y":1.07},{"p":"c2","s":"Exact","x":0.0235,"y":1.12},{"p":"c2","s":"Exact","x":0.0245,"y":1.4},{"p":"c2","s":"Exact","x":0.025,"y":1.95},{"p":"c2","s":"Exact","x":0.0253,"y":0.7},{"p":"c2","s":"Exact","x":0.0256,"y":0.65},{"p":"c2","s":"Exact","x":0.026,"y":0.78},{"p":"c2","s":"Exact","x":0.0275,"y":0.813},{"p":"c2","s":"Exact","x":0.03,"y":0.871},{"p":"c2","s":"Exact","x":0.05,"y":0.977},{"p":"c2","s":"Exact","x":0.1,"y":1.0},{"p":"c2","s":"Exact","x":0.25,"y":1.0},{"p":"c2","s":"Exact","x":0.39,"y":1.12},{"p":"c2","s":"Exact","x":0.48,"y":1.12},{"p":"c2","s":"Exact","x":0.6,"y":1.02},{"p":"c2","s":"Exact","x":0.69,"y":1.0},{"p":"c2","s":"Exact","x":0.8,"y":1.02},{"p":"c2","s":"Exact","x":0.87,"y":0.98},{"p":"c2","s":"Exact","x":0.95,"y":1.17},{"p":"c2","s":"Exact","x":1,"y":1.12},
      {"p":"c2","s":"Monopole","x":0.005,"y":1.05},{"p":"c2","s":"Monopole","x":0.0085,"y":1.07},{"p":"c2","s":"Monopole","x":0.0108,"y":1.17},{"p":"c2","s":"Monopole","x":0.0118,"y":1.41},{"p":"c2","s":"Monopole","x":0.0122,"y":1.9},{"p":"c2","s":"Monopole","x":0.0124,"y":2.8},{"p":"c2","s":"Monopole","x":0.0125,"y":5.13},{"p":"c2","s":"Monopole","x":0.0126,"y":1.0},{"p":"c2","s":"Monopole","x":0.0127,"y":0.0501},{"p":"c2","s":"Monopole","x":0.0129,"y":0.5},{"p":"c2","s":"Monopole","x":0.0131,"y":0.7},{"p":"c2","s":"Monopole","x":0.0134,"y":0.776},{"p":"c2","s":"Monopole","x":0.0142,"y":0.871},{"p":"c2","s":"Monopole","x":0.0165,"y":1.0},{"p":"c2","s":"Monopole","x":0.0205,"y":1.07},{"p":"c2","s":"Monopole","x":0.0235,"y":1.12},{"p":"c2","s":"Monopole","x":0.0245,"y":1.45},{"p":"c2","s":"Monopole","x":0.0249,"y":2.5},{"p":"c2","s":"Monopole","x":0.025,"y":6.03},{"p":"c2","s":"Monopole","x":0.0251,"y":1.0},{"p":"c2","s":"Monopole","x":0.0253,"y":0.288},{"p":"c2","s":"Monopole","x":0.0256,"y":0.6},{"p":"c2","s":"Monopole","x":0.026,"y":0.78},{"p":"c2","s":"Monopole","x":0.0275,"y":0.813},{"p":"c2","s":"Monopole","x":0.03,"y":0.871},{"p":"c2","s":"Monopole","x":0.05,"y":0.955},{"p":"c2","s":"Monopole","x":0.1,"y":0.977},{"p":"c2","s":"Monopole","x":1,"y":0.977},
      {"p":"c2","s":"No interaction","x":0.005,"y":1.05},{"p":"c2","s":"No interaction","x":0.0085,"y":1.07},{"p":"c2","s":"No interaction","x":0.0108,"y":1.17},{"p":"c2","s":"No interaction","x":0.0118,"y":1.41},{"p":"c2","s":"No interaction","x":0.0122,"y":1.9},{"p":"c2","s":"No interaction","x":0.0124,"y":2.6},{"p":"c2","s":"No interaction","x":0.0125,"y":4.27},{"p":"c2","s":"No interaction","x":0.0126,"y":1.2},{"p":"c2","s":"No interaction","x":0.0128,"y":0.603},{"p":"c2","s":"No interaction","x":0.013,"y":0.7},{"p":"c2","s":"No interaction","x":0.0134,"y":0.776},{"p":"c2","s":"No interaction","x":0.0142,"y":0.871},{"p":"c2","s":"No interaction","x":0.0165,"y":1.0},{"p":"c2","s":"No interaction","x":0.0205,"y":1.07},{"p":"c2","s":"No interaction","x":0.0235,"y":1.12},{"p":"c2","s":"No interaction","x":0.0245,"y":1.4},{"p":"c2","s":"No interaction","x":0.025,"y":1.95},{"p":"c2","s":"No interaction","x":0.0253,"y":0.65},{"p":"c2","s":"No interaction","x":0.0256,"y":0.6},{"p":"c2","s":"No interaction","x":0.026,"y":0.78},{"p":"c2","s":"No interaction","x":0.0275,"y":0.813},{"p":"c2","s":"No interaction","x":0.03,"y":0.871},{"p":"c2","s":"No interaction","x":0.05,"y":0.955},{"p":"c2","s":"No interaction","x":0.1,"y":0.977},{"p":"c2","s":"No interaction","x":1,"y":0.977}
    ],
    "notes": [
      {"p":"a1","k":"ell","x":0.0127,"y":4.99},{"p":"a1","k":"ell","x":0.0255,"y":5.18},
      {"p":"a1","k":"let","x":0.0099,"y":8.0,"t":"A"},{"p":"a1","k":"let","x":0.0229,"y":8.0,"t":"B"},
      {"p":"a1","k":"arr","x":0.0845,"y":0.746},{"p":"a1","k":"arr","x":0.3,"y":0.746},
      {"p":"a1","k":"val","x":0.0877,"y":0.746,"t":"0.0125"},{"p":"a1","k":"val","x":0.312,"y":0.746,"t":"0.025"},
      {"p":"a1","k":"exp","x":0.0923,"y":0.134,"t":"Expansion of A"},{"p":"a1","k":"exp","x":0.313,"y":0.134,"t":"Expansion of B"},
      {"p":"b1","k":"ell","x":0.0128,"y":4.01},{"p":"b1","k":"ell","x":0.0262,"y":4.01},
      {"p":"b1","k":"let","x":0.0101,"y":6.3,"t":"A"},{"p":"b1","k":"let","x":0.0212,"y":6.3,"t":"B"},
      {"p":"b1","k":"arr","x":0.094,"y":0.518},{"p":"b1","k":"arr","x":0.336,"y":0.499},
      {"p":"b1","k":"val","x":0.098,"y":0.518,"t":"0.0125"},{"p":"b1","k":"val","x":0.35,"y":0.499,"t":"0.025"},
      {"p":"b1","k":"exp","x":0.094,"y":0.124,"t":"Expansion of A"},{"p":"b1","k":"exp","x":0.38,"y":0.124,"t":"Expansion of B"},
      {"p":"c1","k":"ell","x":0.0128,"y":4.05},{"p":"c1","k":"ell","x":0.026,"y":4.05},
      {"p":"c1","k":"let","x":0.0102,"y":6.2,"t":"A"},{"p":"c1","k":"let","x":0.0212,"y":6.2,"t":"B"},
      {"p":"c1","k":"arr","x":0.11,"y":2.99},{"p":"c1","k":"arr","x":0.394,"y":2.99},
      {"p":"c1","k":"val","x":0.115,"y":2.99,"t":"0.0125"},{"p":"c1","k":"val","x":0.41,"y":2.99,"t":"0.025"},
      {"p":"c1","k":"exp","x":0.11,"y":0.668,"t":"Expansion of A"},{"p":"c1","k":"exp","x":0.4,"y":0.668,"t":"Expansion of B"}
    ]
  },
  "concat": [
    {
      "width": 180, "height": 126,
      "encoding": {
        "x": {"field": "x", "type": "quantitative", "scale": {"type": "log", "domain": [0.005, 1]},
          "axis": {"title": "kₛa₁ in log scale", "titlePadding": 4.5, "values": [0.005,0.006,0.007,0.008,0.009,0.01,0.02,0.03,0.04,0.05,0.06,0.07,0.08,0.09,0.1,0.2,0.3,0.4,0.5,0.6,0.7,0.8,0.9,1], "labelExpr": "datum.value==0.01?'10⁻²':datum.value==0.1?'10⁻¹':datum.value==1?'10⁰':''"}},
        "y": {"field": "y", "type": "quantitative", "scale": {"type": "log", "domain": [0.1, 10]},
          "axis": {"title": "|pₛcₐₜ/pₛ| in log scale", "titlePadding": 5, "values": [0.1,0.2,0.3,0.4,0.5,0.6,0.7,0.8,0.9,1,2,3,4,5,6,7,8,9,10], "labelExpr": "datum.value==0.1?'10⁻¹':datum.value==1?'10⁰':datum.value==10?'10¹':''"}}
      },
      "layer": [
        {"data": {"name": "curves"}, "transform": [{"filter": "datum.p=='a1'"}],
          "mark": {"type": "line", "strokeWidth": 1.1, "clip": true},
          "encoding": {
            "color": {"field": "s", "type": "nominal", "scale": {"domain": ["Exact","Monopole","No interaction"], "range": ["#000000","#3232d6","#e8302c"]}, "legend": {"title": null, "orient": "none", "legendX": 117, "legendY": 4.5}},
            "strokeDash": {"field": "s", "type": "nominal", "scale": {"domain": ["Exact","Monopole","No interaction"], "range": [[1,0],[3.5,1.8],[1,0]]}, "legend": {"title": null, "orient": "none", "legendX": 117, "legendY": 4.5}},
            "detail": {"field": "g"}
          }},
        {"data": {"name": "notes"}, "transform": [{"filter": "datum.p=='a1'&&datum.k=='ell'"}],
          "mark": {"type": "point", "shape": "M0,-1A0.42,1,0,1,1,0,1A0.42,1,0,1,1,0,-1Z", "size": 1444, "filled": false, "stroke": "#555", "strokeWidth": 0.7, "strokeDash": [1.4,1.4], "opacity": 1}},
        {"data": {"name": "notes"}, "transform": [{"filter": "datum.p=='a1'&&datum.k=='let'"}],
          "mark": {"type": "text", "fontSize": 7, "font": "Liberation Serif"}, "encoding": {"text": {"field": "t"}}},
        {"data": {"name": "notes"}, "transform": [{"filter": "datum.p=='a1'&&datum.k=='arr'"}],
          "mark": {"type": "point", "shape": "M-0.35,-1L0.35,-1L0.35,0.1L0.8,0.1L0,1L-0.8,0.1L-0.35,0.1Z", "size": 36, "filled": true, "color": "#000", "opacity": 1}},
        {"data": {"name": "notes"}, "transform": [{"filter": "datum.p=='a1'&&datum.k=='val'"}],
          "mark": {"type": "text", "fontSize": 5.5, "font": "Liberation Serif", "align": "left", "dx": 1}, "encoding": {"text": {"field": "t"}}},
        {"data": {"name": "notes"}, "transform": [{"filter": "datum.p=='a1'&&datum.k=='exp'"}],
          "mark": {"type": "text", "fontSize": 5.8, "font": "Liberation Serif"}, "encoding": {"text": {"field": "t"}}}
      ]
    },
    {
      "width": 180, "height": 126,
      "encoding": {
        "x": {"field": "x", "type": "quantitative", "scale": {"type": "log", "domain": [0.005, 1]},
          "axis": {"title": "kₛa₁ in log scale", "titlePadding": 4.5, "values": [0.005,0.006,0.007,0.008,0.009,0.01,0.02,0.03,0.04,0.05,0.06,0.07,0.08,0.09,0.1,0.2,0.3,0.4,0.5,0.6,0.7,0.8,0.9,1], "labelExpr": "datum.value==0.01?'10⁻²':datum.value==0.1?'10⁻¹':datum.value==1?'10⁰':''"}},
        "y": {"field": "y", "type": "quantitative", "scale": {"type": "log", "domain": [0.1, 10]},
          "axis": {"title": "|pₛcₐₜ/pₛ| in log scale", "titlePadding": 5, "values": [0.1,0.2,0.3,0.4,0.5,0.6,0.7,0.8,0.9,1,2,3,4,5,6,7,8,9,10], "labelExpr": "datum.value==0.1?'10⁻¹':datum.value==1?'10⁰':datum.value==10?'10¹':''"}}
      },
      "layer": [
        {"data": {"name": "curves"}, "transform": [{"filter": "datum.p=='b1'"}],
          "mark": {"type": "line", "strokeWidth": 1.1, "clip": true},
          "encoding": {
            "color": {"field": "s", "type": "nominal", "scale": {"domain": ["Exact","Monopole","No interaction"], "range": ["#000000","#3232d6","#e8302c"]}, "legend": {"title": null, "orient": "none", "legendX": 117, "legendY": 4.5}},
            "strokeDash": {"field": "s", "type": "nominal", "scale": {"domain": ["Exact","Monopole","No interaction"], "range": [[1,0],[3.5,1.8],[1,0]]}, "legend": {"title": null, "orient": "none", "legendX": 117, "legendY": 4.5}},
            "detail": {"field": "g"}
          }},
        {"data": {"name": "notes"}, "transform": [{"filter": "datum.p=='b1'&&datum.k=='ell'"}],
          "mark": {"type": "point", "shape": "M0,-1A0.57,1,0,1,1,0,1A0.57,1,0,1,1,0,-1Z", "size": 784, "filled": false, "stroke": "#555", "strokeWidth": 0.7, "strokeDash": [1.4,1.4], "opacity": 1}},
        {"data": {"name": "notes"}, "transform": [{"filter": "datum.p=='b1'&&datum.k=='let'"}],
          "mark": {"type": "text", "fontSize": 7, "font": "Liberation Serif"}, "encoding": {"text": {"field": "t"}}},
        {"data": {"name": "notes"}, "transform": [{"filter": "datum.p=='b1'&&datum.k=='arr'"}],
          "mark": {"type": "point", "shape": "M-0.35,-1L0.35,-1L0.35,0.1L0.8,0.1L0,1L-0.8,0.1L-0.35,0.1Z", "size": 36, "filled": true, "color": "#000", "opacity": 1}},
        {"data": {"name": "notes"}, "transform": [{"filter": "datum.p=='b1'&&datum.k=='val'"}],
          "mark": {"type": "text", "fontSize": 5.5, "font": "Liberation Serif", "align": "left", "dx": 1}, "encoding": {"text": {"field": "t"}}},
        {"data": {"name": "notes"}, "transform": [{"filter": "datum.p=='b1'&&datum.k=='exp'"}],
          "mark": {"type": "text", "fontSize": 5.8, "font": "Liberation Serif"}, "encoding": {"text": {"field": "t"}}}
      ]
    },
    {
      "width": 180, "height": 126,
      "encoding": {
        "x": {"field": "x", "type": "quantitative", "scale": {"type": "log", "domain": [0.005, 1]},
          "axis": {"title": "kₛa₁ in log scale", "titlePadding": 4.5, "values": [0.005,0.006,0.007,0.008,0.009,0.01,0.02,0.03,0.04,0.05,0.06,0.07,0.08,0.09,0.1,0.2,0.3,0.4,0.5,0.6,0.7,0.8,0.9,1], "labelExpr": "datum.value==0.01?'10⁻²':datum.value==0.1?'10⁻¹':datum.value==1?'10⁰':''"}},
        "y": {"field": "y", "type": "quantitative", "scale": {"type": "log", "domain": [0.1, 10]},
          "axis": {"title": "|pₛcₐₜ/pₛ| in log scale", "titlePadding": 5, "values": [0.1,0.2,0.3,0.4,0.5,0.6,0.7,0.8,0.9,1,2,3,4,5,6,7,8,9,10], "labelExpr": "datum.value==0.1?'10⁻¹':datum.value==1?'10⁰':datum.value==10?'10¹':''"}}
      },
      "layer": [
        {"data": {"name": "curves"}, "transform": [{"filter": "datum.p=='c1'"}],
          "mark": {"type": "line", "strokeWidth": 1.1, "clip": true},
          "encoding": {
            "color": {"field": "s", "type": "nominal", "scale": {"domain": ["Exact","Monopole","No interaction"], "range": ["#000000","#3232d6","#e8302c"]}, "legend": {"title": null, "orient": "none", "legendX": 117, "legendY": 4.5}},
            "strokeDash": {"field": "s", "type": "nominal", "scale": {"domain": ["Exact","Monopole","No interaction"], "range": [[1,0],[3.5,1.8],[1,0]]}, "legend": {"title": null, "orient": "none", "legendX": 117, "legendY": 4.5}},
            "detail": {"field": "g"}
          }},
        {"data": {"name": "notes"}, "transform": [{"filter": "datum.p=='c1'&&datum.k=='ell'"}],
          "mark": {"type": "point", "shape": "M0,-1A0.57,1,0,1,1,0,1A0.57,1,0,1,1,0,-1Z", "size": 784, "filled": false, "stroke": "#555", "strokeWidth": 0.7, "strokeDash": [1.4,1.4], "opacity": 1}},
        {"data": {"name": "notes"}, "transform": [{"filter": "datum.p=='c1'&&datum.k=='let'"}],
          "mark": {"type": "text", "fontSize": 7, "font": "Liberation Serif"}, "encoding": {"text": {"field": "t"}}},
        {"data": {"name": "notes"}, "transform": [{"filter": "datum.p=='c1'&&datum.k=='arr'"}],
          "mark": {"type": "point", "shape": "M-0.35,-1L0.35,-1L0.35,0.1L0.8,0.1L0,1L-0.8,0.1L-0.35,0.1Z", "size": 36, "filled": true, "color": "#000", "opacity": 1}},
        {"data": {"name": "notes"}, "transform": [{"filter": "datum.p=='c1'&&datum.k=='val'"}],
          "mark": {"type": "text", "fontSize": 5.5, "font": "Liberation Serif", "align": "left", "dx": 1}, "encoding": {"text": {"field": "t"}}},
        {"data": {"name": "notes"}, "transform": [{"filter": "datum.p=='c1'&&datum.k=='exp'"}],
          "mark": {"type": "text", "fontSize": 5.8, "font": "Liberation Serif"}, "encoding": {"text": {"field": "t"}}}
      ]
    },
    {
      "width": 180, "height": 125,
      "title": {"text": "(a)  d/a₁=3.5", "orient": "bottom", "dx": -1.5, "offset": 9},
      "data": {"name": "curves"},
      "transform": [{"filter": "datum.p=='a2'"}],
      "mark": {"type": "line", "strokeWidth": 1.1, "clip": true},
      "encoding": {
        "x": {"field": "x", "type": "quantitative", "scale": {"type": "log", "domain": [0.005, 1]},
          "axis": {"title": "kₛa₁ in log scale", "titlePadding": 4.5, "values": [0.005,0.006,0.007,0.008,0.009,0.01,0.02,0.03,0.04,0.05,0.06,0.07,0.08,0.09,0.1,0.2,0.3,0.4,0.5,0.6,0.7,0.8,0.9,1], "labelExpr": "datum.value==0.01?'10⁻²':datum.value==0.1?'10⁻¹':datum.value==1?'10⁰':''"}},
        "y": {"field": "y", "type": "quantitative", "scale": {"type": "log", "domain": [0.1, 10]},
          "axis": {"title": "|pₜₒₜₐₗ/pₛ| in log scale", "titlePadding": 5, "values": [0.1,0.2,0.3,0.4,0.5,0.6,0.7,0.8,0.9,1,2,3,4,5,6,7,8,9,10], "labelExpr": "datum.value==0.1?'10⁻¹':datum.value==1?'10⁰':datum.value==10?'10¹':''"}},
        "color": {"field": "s", "type": "nominal", "scale": {"domain": ["Exact","Monopole","No interaction"], "range": ["#000000","#3232d6","#e8302c"]}, "legend": {"title": null, "orient": "none", "legendX": 117, "legendY": 0.5}},
        "strokeDash": {"field": "s", "type": "nominal", "scale": {"domain": ["Exact","Monopole","No interaction"], "range": [[1,0],[3.5,1.8],[1,0]]}, "legend": {"title": null, "orient": "none", "legendX": 117, "legendY": 0.5}}
      }
    },
    {
      "width": 180, "height": 125,
      "title": {"text": "(b)  d/a₁=7", "orient": "bottom", "dx": -11.5, "offset": 9},
      "data": {"name": "curves"},
      "transform": [{"filter": "datum.p=='b2'"}],
      "mark": {"type": "line", "strokeWidth": 1.1, "clip": true},
      "encoding": {
        "x": {"field": "x", "type": "quantitative", "scale": {"type": "log", "domain": [0.005, 1]},
          "axis": {"title": "kₛa₁ in log scale", "titlePadding": 4.5, "values": [0.005,0.006,0.007,0.008,0.009,0.01,0.02,0.03,0.04,0.05,0.06,0.07,0.08,0.09,0.1,0.2,0.3,0.4,0.5,0.6,0.7,0.8,0.9,1], "labelExpr": "datum.value==0.01?'10⁻²':datum.value==0.1?'10⁻¹':datum.value==1?'10⁰':''"}},
        "y": {"field": "y", "type": "quantitative", "scale": {"type": "log", "domain": [0.1, 10]},
          "axis": {"title": "|pₜₒₜₐₗ/pₛ| in log scale", "titlePadding": 5, "values": [0.1,0.2,0.3,0.4,0.5,0.6,0.7,0.8,0.9,1,2,3,4,5,6,7,8,9,10], "labelExpr": "datum.value==0.1?'10⁻¹':datum.value==1?'10⁰':datum.value==10?'10¹':''"}},
        "color": {"field": "s", "type": "nominal", "scale": {"domain": ["Exact","Monopole","No interaction"], "range": ["#000000","#3232d6","#e8302c"]}, "legend": {"title": null, "orient": "none", "legendX": 117, "legendY": 0.5}},
        "strokeDash": {"field": "s", "type": "nominal", "scale": {"domain": ["Exact","Monopole","No interaction"], "range": [[1,0],[3.5,1.8],[1,0]]}, "legend": {"title": null, "orient": "none", "legendX": 117, "legendY": 0.5}}
      }
    },
    {
      "width": 180, "height": 125,
      "title": {"text": "(c)  d/a₁=20", "orient": "bottom", "dx": -13.5, "offset": 9},
      "data": {"name": "curves"},
      "transform": [{"filter": "datum.p=='c2'"}],
      "mark": {"type": "line", "strokeWidth": 1.1, "clip": true},
      "encoding": {
        "x": {"field": "x", "type": "quantitative", "scale": {"type": "log", "domain": [0.005, 1]},
          "axis": {"title": "kₛa₁ in log scale", "titlePadding": 4.5, "values": [0.005,0.006,0.007,0.008,0.009,0.01,0.02,0.03,0.04,0.05,0.06,0.07,0.08,0.09,0.1,0.2,0.3,0.4,0.5,0.6,0.7,0.8,0.9,1], "labelExpr": "datum.value==0.01?'10⁻²':datum.value==0.1?'10⁻¹':datum.value==1?'10⁰':''"}},
        "y": {"field": "y", "type": "quantitative", "scale": {"type": "log", "domain": [0.1, 10]},
          "axis": {"title": "|pₜₒₜₐₗ/pₛ| in log scale", "titlePadding": 5, "values": [0.1,0.2,0.3,0.4,0.5,0.6,0.7,0.8,0.9,1,2,3,4,5,6,7,8,9,10], "labelExpr": "datum.value==0.1?'10⁻¹':datum.value==1?'10⁰':datum.value==10?'10¹':''"}},
        "color": {"field": "s", "type": "nominal", "scale": {"domain": ["Exact","Monopole","No interaction"], "range": ["#000000","#3232d6","#e8302c"]}, "legend": {"title": null, "orient": "none", "legendX": 117, "legendY": 0.5}},
        "strokeDash": {"field": "s", "type": "nominal", "scale": {"domain": ["Exact","Monopole","No interaction"], "range": [[1,0],[3.5,1.8],[1,0]]}, "legend": {"title": null, "orient": "none", "legendX": 117, "legendY": 0.5}}
      }
    }
  ]
}
